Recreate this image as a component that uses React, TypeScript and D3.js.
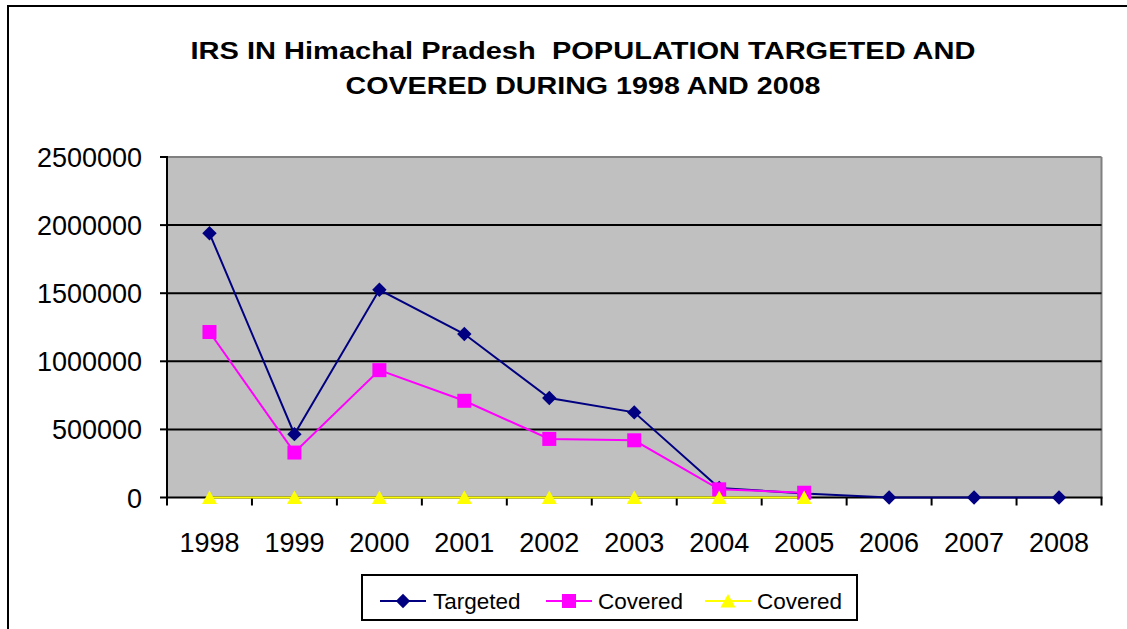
import React from "react";
import * as d3 from "d3";

const years = ["1998", "1999", "2000", "2001", "2002", "2003", "2004", "2005", "2006", "2007", "2008"];
const targeted: (number | null)[] = [1940000, 465000, 1525000, 1200000, 730000, 625000, 70000, 30000, 0, 0, 0];
const covered: (number | null)[] = [1215000, 330000, 935000, 710000, 430000, 420000, 60000, 35000, null, null, null];
const covered2: (number | null)[] = [0, 0, 0, 0, 0, 0, 0, 0, null, null, null];
const yTicks = [0, 500000, 1000000, 1500000, 2000000, 2500000];
const titleLines = ["IRS IN Himachal Pradesh  POPULATION TARGETED AND", "COVERED DURING 1998 AND 2008"];
const seriesNames = ["Targeted", "Covered", "Covered"];

const W = 1127, H = 629;
const L = 167, R = 1101.5, T = 157, B = 497.5;
const FONT = "'Liberation Sans', Arial, sans-serif";

function Marker({ kind, x, y, color }: { kind: string; x: number; y: number; color: string }) {
  if (kind === "diamond") {
    const s = 7.2;
    return <path d={`M${x},${y - s}L${x + s},${y}L${x},${y + s}L${x - s},${y}Z`} fill={color} />;
  }
  if (kind === "square") {
    const s = 7;
    return <rect x={x - s} y={y - s} width={2 * s} height={2 * s} fill={color} />;
  }
  const w = 7.5, h = 13;
  return <path d={`M${x},${y - h / 2 - 0.5}L${x + w},${y + h / 2}L${x - w},${y + h / 2}Z`} fill={color} />;
}

export default function App() {
  const x = d3.scaleBand<string>().domain(years).range([L, R]).padding(0);
  const y = d3.scaleLinear().domain([0, 2500000]).range([B, T]);
  const cx = (yr: string) => (x(yr) as number) + x.bandwidth() / 2;

  const series = [
    { values: targeted, color: "#000080", kind: "diamond", width: 2 },
    { values: covered, color: "#FF00FF", kind: "square", width: 2 },
    { values: covered2, color: "#FFFF00", kind: "triangle", width: 2 },
  ];

  const line = d3
    .line<[string, number | null]>()
    .defined((d) => d[1] !== null)
    .x((d) => cx(d[0]))
    .y((d) => y(d[1] as number));

  const legendItems = [
    { lx: 380, tx: 433 },
    { lx: 546, tx: 598 },
    { lx: 705, tx: 757 },
  ];

  return (
    <svg width={W} height={H} style={{ position: "absolute", left: 0, top: 0 }} fontFamily={FONT}>
      <rect x={0} y={0} width={W} height={H} fill="#fff" />
      <rect x={8} y={6} width={W + 20} height={H + 20} fill="none" stroke="#000" strokeWidth={2} />

      {/* title */}
      <text x={583} y={59} textAnchor="middle" fontSize={24.5} fontWeight="bold" textLength={785} lengthAdjust="spacingAndGlyphs" style={{ whiteSpace: "pre" }}>
        {titleLines[0]}
      </text>
      <text x={583} y={94} textAnchor="middle" fontSize={24.5} fontWeight="bold" textLength={475} lengthAdjust="spacingAndGlyphs" style={{ whiteSpace: "pre" }}>
        {titleLines[1]}
      </text>

      {/* plot area */}
      <rect x={L} y={T} width={R - L} height={B - T} fill="#C0C0C0" />
      <line x1={L} x2={R} y1={T} y2={T} stroke="#808080" strokeWidth={2} />
      <line x1={R} x2={R} y1={T} y2={B} stroke="#808080" strokeWidth={2} />
      {yTicks.slice(1, -1).map((t) => (
        <line key={t} x1={L} x2={R} y1={y(t)} y2={y(t)} stroke="#000" strokeWidth={2} />
      ))}

      {/* y axis */}
      <line x1={L} x2={L} y1={T - 1} y2={B + 8} stroke="#000" strokeWidth={2} />
      {yTicks.map((t) => (
        <g key={t}>
          <line x1={L - 7} x2={L} y1={y(t)} y2={y(t)} stroke="#000" strokeWidth={2} />
          <text x={142} y={y(t) + 10} textAnchor="end" fontSize={27}>
            {t}
          </text>
        </g>
      ))}

      {/* x axis */}
      <line x1={L} x2={R + 1} y1={B} y2={B} stroke="#000" strokeWidth={2} />
      {years.map((yr) => (
        <line key={"t" + yr} x1={(x(yr) as number) + x.bandwidth()} x2={(x(yr) as number) + x.bandwidth()} y1={B} y2={B + 8} stroke="#000" strokeWidth={2} />
      ))}
      {years.map((yr) => (
        <text key={"l" + yr} x={cx(yr)} y={551.5} textAnchor="middle" fontSize={27}>
          {yr}
        </text>
      ))}

      {/* series */}
      {series.map((s, i) => (
        <path
          key={"line" + i}
          d={line(years.map((yr, j) => [yr, s.values[j]] as [string, number | null])) || ""}
          fill="none"
          stroke={s.color}
          strokeWidth={s.width}
        />
      ))}
      {series.map((s, i) =>
        years.map((yr, j) =>
          s.values[j] === null ? null : (
            <Marker key={"m" + i + yr} kind={s.kind} x={cx(yr)} y={y(s.values[j] as number)} color={s.color} />
          )
        )
      )}

      {/* legend */}
      <rect x={362} y={575} width={495} height={45} fill="#fff" stroke="#000" strokeWidth={2} />
      {series.map((s, i) => (
        <g key={"lg" + i}>
          <line x1={legendItems[i].lx} x2={legendItems[i].lx + 46} y1={601} y2={601} stroke={s.color} strokeWidth={2} />
          <Marker kind={s.kind} x={legendItems[i].lx + 23} y={601} color={s.color} />
          <text x={legendItems[i].tx} y={609} fontSize={22.5}>
            {seriesNames[i]}
          </text>
        </g>
      ))}
    </svg>
  );
}
